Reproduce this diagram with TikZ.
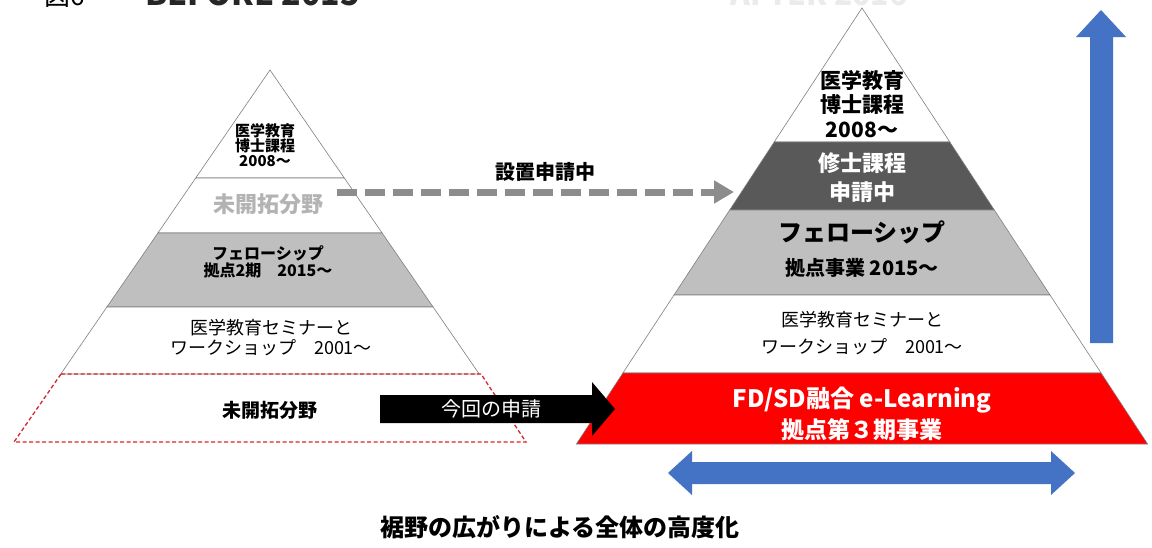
\documentclass[tikz,border=0pt]{standalone}
\usepackage{fontspec}
\setmainfont{Noto Sans CJK JP}
\usetikzlibrary{arrows.meta}
\definecolor{bandgray}{HTML}{BFBFBF}
\definecolor{darkband}{HTML}{595959}
\definecolor{edgegray}{HTML}{7F7F7F}
\definecolor{arrowblue}{HTML}{4472C4}
\definecolor{dashgray}{HTML}{8C8C8C}
\definecolor{newred}{HTML}{D8262F}
\definecolor{paletext}{HTML}{B3B3B3}
\tikzset{
  band/.style={draw=edgegray,line width=0.6pt},
  lbl/.style={align=center,inner sep=0pt},
}
\newcommand{\fs}[2]{\fontsize{#1}{#2}\selectfont}

\begin{document}
\begin{tikzpicture}[x=1pt,y=-1pt]
\useasboundingbox (0,0) rectangle (1152,547);
\clip (0,0) rectangle (1152,547);
\fill[white] (0,0) rectangle (1152,547);

\node[lbl,anchor=base west,font=\fs{26}{28}] (fig) at (44,5) {図6};
\node[lbl,anchor=base west,font=\fs{32}{34}\bfseries,text=black!85] (before) at (145,5) {BEFORE 2015};
\node[lbl,anchor=base west,font=\fs{30}{32}\bfseries,text=black!8] (after) at (730,5) {AFTER 2016};

\draw[band,fill=white] (270,70) -- (344.3,178) -- (195.7,178) -- cycle;
\draw[band,fill=white] (195.7,178) -- (344.3,178) -- (382.1,233) -- (157.9,233) -- cycle;
\draw[band,fill=bandgray] (157.9,233) -- (382.1,233) -- (433.1,307) -- (106.9,307) -- cycle;
\draw[band,fill=white] (106.9,307) -- (433.1,307) -- (479.2,374) -- (60.8,374) -- cycle;
\draw[newred,line width=1.3pt,dash pattern=on 4pt off 2.5pt] (61,374) -- (481,374) -- (526,442) -- (14,442) -- cycle;

\node[lbl,font=\fs{15}{15}\bfseries] (lt1) at (265,145) {医学教育\\博士課程\\2008～};
\node[lbl,font=\fs{22}{24}\bfseries,text=paletext] (lt2) at (268,204) {未開拓分野};
\node[lbl,font=\fs{16}{16.5}\bfseries] (lt3) at (268,262) {フェローシップ\\拠点2期　2015～};
\node[lbl,font=\fs{18}{20}] (lt4) at (271,338) {医学教育セミナーと\\ワークショップ　2001～};
\node[lbl,font=\fs{19}{21}\bfseries] (lt5) at (270,410) {未開拓分野};

\draw[band,fill=white] (862,8) -- (949.8,142) -- (774.2,142) -- cycle;
\draw[band,fill=darkband] (774.2,142) -- (949.8,142) -- (994.3,210) -- (729.7,210) -- cycle;
\draw[band,fill=bandgray] (729.7,210) -- (994.3,210) -- (1050,295) -- (674,295) -- cycle;
\draw[band,fill=white] (674,295) -- (1050,295) -- (1101.1,373) -- (622.9,373) -- cycle;
\draw[band,fill=red] (622.9,373) -- (1101.1,373) -- (1147.6,444) -- (576.4,444) -- cycle;

\node[lbl,font=\fs{21}{24.5}\bfseries] (rt1) at (862,104) {医学教育\\博士課程\\2008～};
\node[lbl,font=\fs{22}{29}\bfseries,text=white] (rt2) at (862,178) {修士課程\\申請中};
\node[lbl,font=\fs{24}{26}\bfseries] (rt3) at (862,232) {フェローシップ};
\node[lbl,font=\fs{20}{22}\bfseries] (rt4) at (862,268) {拠点事業 2015～};
\node[lbl,font=\fs{18}{27}] (rt5) at (862,333) {医学教育セミナーと\\ワークショップ　2001～};
\node[lbl,font=\fs{24}{26}\bfseries,text=white] (rt6) at (862,400) {FD/SD融合 e-Learning};
\node[lbl,font=\fs{23}{25}\bfseries,text=white] (rt7) at (862,430) {拠点第３期事業};

\coordinate (dstart) at (337,192);
\coordinate (dend) at (734,192);
\draw[dashgray,line width=7pt,dash pattern=on 20pt off 8pt,-{Triangle[length=20pt,width=22pt]}] (dstart) -- (dend);
\node[lbl,font=\fs{20}{22}\bfseries] (apply) at (545,172) {設置申請中};

\fill[black] (380,395) -- (592,395) -- (592,382) -- (615,409) -- (592,436) -- (592,423) -- (380,423) -- cycle;
\node[lbl,font=\fs{20}{22},text=white] (now) at (491,409) {今回の申請};

\fill[arrowblue] (1090,343) -- (1090,37) -- (1076,37) -- (1101,10) -- (1126,37) -- (1113,37) -- (1113,343) -- cycle;
\fill[arrowblue] (668,473) -- (692,451) -- (692,462) -- (1051,462) -- (1051,451) -- (1075,473) -- (1051,495) -- (1051,484) -- (692,484) -- (692,495) -- cycle;

\node[lbl,font=\fs{24}{26}\bfseries] (wide) at (560,527) {裾野の広がりによる全体の高度化};
\end{tikzpicture}
\end{document}
